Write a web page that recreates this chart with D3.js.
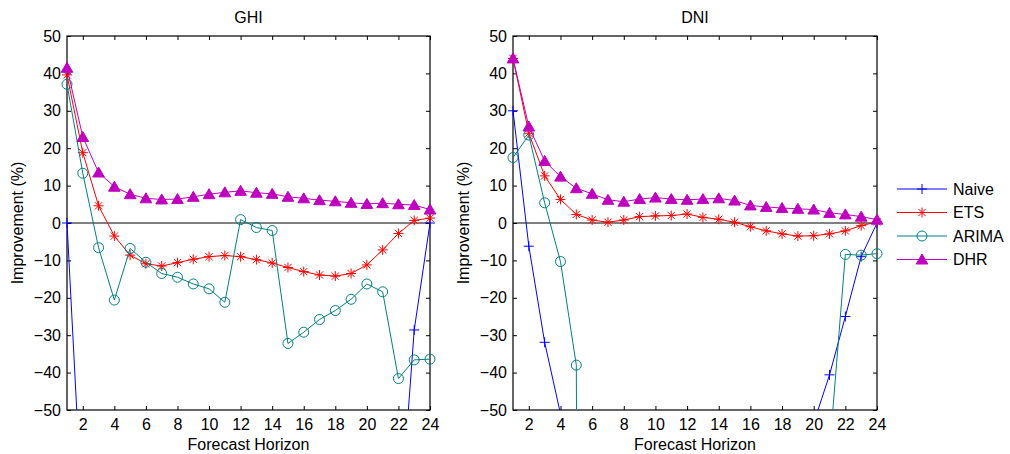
<!DOCTYPE html>
<html>
<head>
<meta charset="utf-8">
<script src="https://cdn.jsdelivr.net/npm/d3@7"></script>
<style>
  body { margin: 0; background: #fff; }
  svg { font-family: "Liberation Sans", Arial, sans-serif; }
</style>
</head>
<body>
<div class="chart"></div>
<script>
// forecast horizons (hours ahead)
var horizons = [1,2,3,4,5,6,7,8,9,10,11,12,13,14,15,16,17,18,19,20,21,22,23,24];
var xTicks = [2,4,6,8,10,12,14,16,18,20,22,24];
var yTicks = [-50,-40,-30,-20,-10,0,10,20,30,40,50];
var seriesNames = ["Naive", "ETS", "ARIMA", "DHR"];

// GHI improvement (%)
var ghiNaive = [0,-81,-104,-115,-121,-126,-130,-132,-131,-129,-127,-128,-130,-133,-136,-138,-139,-137,-131,-122,-110,-86.5,-28.6,0];
var ghiETS   = [39.6,18.8,4.6,-3.5,-8.6,-10.9,-11.5,-10.6,-9.7,-9.0,-8.7,-9.0,-9.8,-10.7,-11.9,-13.0,-13.9,-14.2,-13.5,-11.2,-7.2,-2.8,0.7,1.3];
var ghiARIMA = [37.1,13.3,-6.6,-20.6,-6.8,-10.5,-13.5,-14.5,-16.3,-17.6,-21.2,0.9,-1.2,-2.0,-32.2,-29.2,-25.8,-23.4,-20.4,-16.3,-18.4,-41.6,-36.6,-36.4];
var ghiDHR   = [41.5,23.0,13.5,9.7,7.7,6.6,6.3,6.4,7.0,7.7,8.2,8.6,8.1,7.8,7.0,6.6,6.1,5.8,5.4,5.1,5.3,5.0,4.8,3.6];

// DNI improvement (%)
var dniNaive = [30.0,-6.2,-31.9,-51,-95,-110,-120,-125,-128,-130,-131,-130,-128,-125,-120,-112,-100,-85,-70,-53.5,-40.6,-25.0,-9.0,0];
var dniETS   = [44.0,24.0,12.6,6.3,2.3,0.8,0.2,0.8,1.7,1.9,2.0,2.4,1.5,1.0,0.2,-1.0,-2.1,-2.9,-3.5,-3.4,-2.9,-2.1,-0.7,0.3];
var dniARIMA = [17.5,23.5,5.4,-10.3,-38.0,-900,-880,-860,-850,-840,-830,-820,-810,-800,-790,-780,-770,-760,-750,-740,-61,-8.4,-8.6,-8.2];
var dniDHR   = [44.0,25.8,16.6,12.4,9.3,7.8,6.2,5.7,6.4,6.8,6.4,6.2,6.4,6.6,6.0,4.7,4.3,4.0,3.8,3.6,2.7,2.3,1.7,0.9];

var colors = { Naive: "#0000ff", ETS: "#ff0000", ARIMA: "#008080", DHR: "#bf00bf" };

var markerPaths = {
  Naive: "M-5,0H5M0,-5V5",
  ETS: "M-5,0H5M0,-5V5M-3.6,-3.6L3.6,3.6M-3.6,3.6L3.6,-3.6",
  DHR: "M0,-5.5L5.8,4.5L-5.8,4.5Z"
};

var width = 1010, height = 454;
var plotTop = 36, plotBottom = 410;

var panels = [
  { title: "GHI", left: 67, right: 430, data: { Naive: ghiNaive, ETS: ghiETS, ARIMA: ghiARIMA, DHR: ghiDHR } },
  { title: "DNI", left: 513, right: 877, data: { Naive: dniNaive, ETS: dniETS, ARIMA: dniARIMA, DHR: dniDHR } }
];

var svg = d3.select(".chart")
  .append("svg")
    .attr("width", width)
    .attr("height", height);

function drawMarker(sel, name) {
  if (name == "ARIMA") {
    sel.append("circle")
      .attr("r", 5)
      .attr("fill", "none")
      .attr("stroke", colors[name])
      .attr("stroke-width", 1);
  } else {
    sel.append("path")
      .attr("d", markerPaths[name])
      .attr("fill", name == "DHR" ? colors[name] : "none")
      .attr("stroke", colors[name])
      .attr("stroke-width", 1);
  }
}

panels.forEach(function(p, k) {
  var x = d3.scaleLinear().domain([1, 24]).range([p.left, p.right]);
  var y = d3.scaleLinear().domain([-50, 50]).range([plotBottom, plotTop]);
  var g = svg.append("g");

  // clip for the lines
  svg.append("clipPath")
      .attr("id", "clip" + k)
    .append("rect")
      .attr("x", p.left).attr("y", plotTop)
      .attr("width", p.right - p.left).attr("height", plotBottom - plotTop);

  // ticks (inward, all four sides)
  var ax = [
    { axis: d3.axisBottom(x).tickValues(xTicks).tickSize(-4).tickPadding(9), t: "translate(0," + plotBottom + ")" },
    { axis: d3.axisTop(x).tickValues(xTicks).tickSize(-4).tickFormat(""), t: "translate(0," + plotTop + ")" },
    { axis: d3.axisLeft(y).tickValues(yTicks).tickSize(-4).tickPadding(6).tickFormat(function(d) { return d < 0 ? "\u2212" + Math.abs(d) : d; }), t: "translate(" + p.left + ",0)" },
    { axis: d3.axisRight(y).tickValues(yTicks).tickSize(-4).tickFormat(""), t: "translate(" + p.right + ",0)" }
  ];
  ax.forEach(function(a) {
    var ag = g.append("g")
        .attr("transform", a.t)
        .call(a.axis.tickSizeOuter(0));
    ag.select(".domain").remove();
    ag.selectAll("line").attr("stroke", "#000");
    ag.selectAll("text").attr("fill", "#000").style("font-size", "16px");
  });

  // box
  g.append("rect")
    .attr("x", p.left).attr("y", plotTop)
    .attr("width", p.right - p.left).attr("height", plotBottom - plotTop)
    .attr("fill", "none").attr("stroke", "#000").attr("stroke-width", 1.2);

  // zero line
  g.append("line")
    .attr("x1", x(1)).attr("x2", x(24))
    .attr("y1", y(0)).attr("y2", y(0))
    .attr("stroke", "#000").attr("stroke-width", 1);

  var line = d3.line()
    .x(function(d) { return x(d.h); })
    .y(function(d) { return y(d.v); });

  seriesNames.forEach(function(name) {
    var pts = horizons.map(function(h, i) { return { h: h, v: p.data[name][i] }; });
    g.append("path")
      .datum(pts)
      .attr("clip-path", "url(#clip" + k + ")")
      .attr("d", line)
      .attr("fill", "none")
      .attr("stroke", colors[name])
      .attr("stroke-width", 1);
    var m = g.selectAll(".m-" + name)
      .data(pts.filter(function(d) { return d.v >= -50 && d.v <= 50; }))
      .enter().append("g")
        .attr("class", "m-" + name)
        .attr("transform", function(d) { return "translate(" + x(d.h) + "," + y(d.v) + ")"; });
    drawMarker(m, name);
  });

  // titles and axis labels
  g.append("text")
    .attr("x", (p.left + p.right) / 2).attr("y", 23)
    .attr("text-anchor", "middle").style("font-size", "16px")
    .text(p.title);
  g.append("text")
    .attr("x", (p.left + p.right) / 2).attr("y", 450)
    .attr("text-anchor", "middle").style("font-size", "16px")
    .text("Forecast Horizon");
  g.append("text")
    .attr("transform", "translate(" + (p.left - 44) + "," + ((plotTop + plotBottom) / 2) + ") rotate(-90)")
    .attr("text-anchor", "middle").style("font-size", "16px")
    .text("Improvement (%)");
});

// legend
var legend = svg.append("g").attr("transform", "translate(897,189)");
seriesNames.forEach(function(name, i) {
  var row = legend.append("g").attr("transform", "translate(0," + (i * 23.5) + ")");
  row.append("line")
    .attr("x1", 0).attr("x2", 50)
    .attr("stroke", colors[name]).attr("stroke-width", 1);
  var mk = row.append("g").attr("transform", "translate(25,0)");
  drawMarker(mk, name);
  row.append("text")
    .attr("x", 56).attr("dy", "0.35em")
    .style("font-size", "16px")
    .text(name);
});
</script>
</body>
</html>
